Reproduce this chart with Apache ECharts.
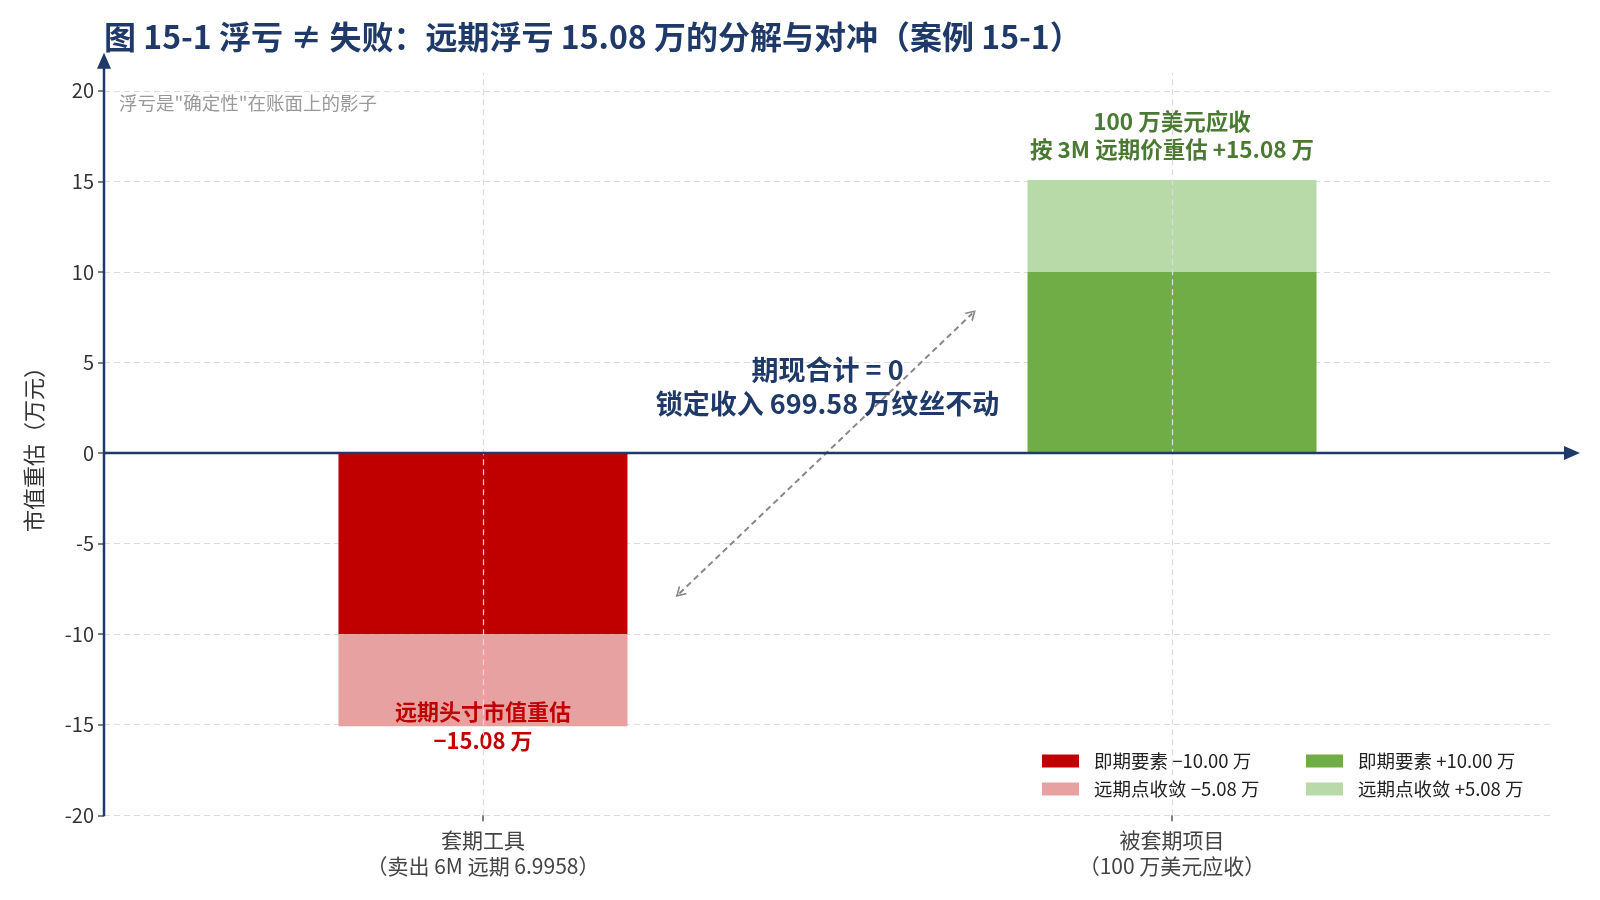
<!DOCTYPE html>
<html>
<head>
    <meta charset="UTF-8">
    <title>图 15-1 浮亏 ≠ 失败</title>
    <script src="https://cdn.jsdelivr.net/npm/echarts/dist/echarts.min.js"></script>
    <style>
    html, body { margin: 0; padding: 0; background: #fff; }
    #chart { width: 1600px; height: 900px; }
  </style>
</head>
<body>
<div id="chart"></div>
<script>
    // 数据
    var categories = ['套期工具\n（卖出 6M 远期 6.9958）', '被套期项目\n（100 万美元应收）'];
    var spotValues = [-10.00, 10.00];      // 即期要素
    var forwardValues = [-5.08, 5.08];     // 远期点收敛
    var yTicks = [-20, -15, -10, -5, 0, 5, 10, 15, 20];
    var seriesNames = ['即期要素 −10.00 万', '远期点收敛 −5.08 万', '即期要素 +10.00 万', '远期点收敛 +5.08 万'];
    var barLabels = ['远期头寸市值重估\n−15.08 万', '100 万美元应收\n按 3M 远期价重估 +15.08 万'];
    var noteText = '期现合计 = 0\n锁定收入 699.58 万纹丝不动';
    var notePos = [0.5, 3.65];
    var arrowFrom = [0.285, -7.75];
    var arrowTo = [0.71, 7.7];

    var NAVY = '#1f3a68';
    var font = '"Noto Sans CJK SC", "Noto Sans", sans-serif';

    // 版面：x 轴范围 -0.55 ~ 1.55，两个柱子位于 0 和 1
    var xMin = -0.55, xMax = 1.55, yMin = -20, yMax = 21;
    var gLeft = 104, gRight = 49, gTop = 72.7, gBottom = 84.7;
    var unit = (1600 - gLeft - gRight) / (xMax - xMin);
    var c0 = gLeft + (0 - xMin) * unit;
    var barLeft = c0 - unit / 2;
    var barRight = 1600 - (barLeft + unit * 2);

    var myChart = echarts.init(document.getElementById('chart'));

    var legendText = { fontSize: 18.5, color: '#222', lineHeight: 20, padding: [0, 0, 0, 10], fontFamily: font };

    var option = {
      animation: false,
      textStyle: { fontFamily: font },
      title: [{
        text: '图 15-1 浮亏 ≠ 失败：远期浮亏 15.08 万的分解与对冲（案例 15-1）',
        left: 99, top: 16,
        textStyle: { fontSize: 32, fontWeight: 'bold', color: NAVY, fontFamily: font }
      }, {
        text: '浮亏是"确定性"在账面上的影子',
        left: 114, top: 89,
        textStyle: { fontSize: 18.5, fontWeight: 'normal', color: '#999', fontFamily: font }
      }],
      legend: [{
        left: 1037, top: 746, orient: 'vertical',
        itemWidth: 37, itemHeight: 13, itemGap: 8, icon: 'rect',
        textStyle: legendText,
        data: [seriesNames[0], seriesNames[1]]
      }, {
        left: 1301, top: 746, orient: 'vertical',
        itemWidth: 37, itemHeight: 13, itemGap: 8, icon: 'rect',
        textStyle: legendText,
        data: [seriesNames[2], seriesNames[3]]
      }],
      grid: [
        { left: gLeft, right: gRight, top: gTop, bottom: gBottom },
        { left: barLeft, right: barRight, top: gTop, bottom: gBottom }
      ],
      xAxis: [{
        gridIndex: 0, type: 'value', min: xMin, max: xMax,
        axisLine: { show: false, onZero: false },
        axisTick: { show: true, customValues: [0, 1], length: 6, lineStyle: { color: '#555', width: 1.5 } },
        axisLabel: {
          customValues: [0, 1], margin: 12,
          fontSize: 21, lineHeight: 26, color: '#444',
          formatter: function (v) { return categories[Math.round(v)]; }
        },
        splitLine: { show: false }
      }, {
        gridIndex: 1, type: 'category', data: categories, show: false
      }],
      yAxis: [{
        gridIndex: 0, type: 'value', min: yMin, max: yMax,
        name: '市值重估（万元）',
        nameLocation: 'middle', nameGap: 59, nameRotate: 90,
        nameTextStyle: { fontSize: 22, color: '#333', fontFamily: font },
        axisLine: { show: false, onZero: false },
        axisTick: { show: true, customValues: yTicks, length: 6, lineStyle: { color: '#555', width: 1.5 } },
        axisLabel: { customValues: yTicks, fontSize: 20, color: '#333', margin: 10 },
        splitLine: { show: true, customValues: yTicks, lineStyle: { color: '#dcdcdc', type: [6, 4], width: 1.2 } }
      }, {
        gridIndex: 1, type: 'value', min: yMin, max: yMax, show: false
      }],
      series: [{
        name: seriesNames[0], type: 'bar', stack: 'a', barWidth: 289,
        xAxisIndex: 1, yAxisIndex: 1,
        itemStyle: { color: '#c00000' },
        data: [spotValues[0], '-'],
        markLine: {
          silent: true, symbol: 'none', label: { show: false },
          lineStyle: { color: '#dcdcdc', type: [6, 4], width: 1.2 },
          data: [{ xAxis: 0 }, { xAxis: 1 }]
        }
      }, {
        name: seriesNames[1], type: 'bar', stack: 'a', barWidth: 289,
        xAxisIndex: 1, yAxisIndex: 1,
        itemStyle: { color: '#e8a1a1' },
        label: {
          show: true, position: ['50%', '100%'], align: 'center', verticalAlign: 'middle',
          formatter: barLabels[0], fontSize: 22, lineHeight: 28.6, fontWeight: 'bold', color: '#c00000'
        },
        data: [forwardValues[0], '-']
      }, {
        name: seriesNames[2], type: 'bar', stack: 'a', barWidth: 289,
        xAxisIndex: 1, yAxisIndex: 1,
        itemStyle: { color: '#70ad47' },
        data: ['-', spotValues[1]]
      }, {
        name: seriesNames[3], type: 'bar', stack: 'a', barWidth: 289,
        xAxisIndex: 1, yAxisIndex: 1,
        itemStyle: { color: '#b8d9a8' },
        label: {
          show: true, position: 'top', distance: 16,
          formatter: barLabels[1], fontSize: 22.5, lineHeight: 28.6, fontWeight: 'bold', color: '#4a7a32'
        },
        data: ['-', forwardValues[1]]
      }, {
        // 中间注释与双向虚线箭头
        type: 'scatter', xAxisIndex: 0, yAxisIndex: 0,
        symbolSize: 0, silent: true, z: 10,
        itemStyle: { opacity: 1, color: NAVY },
        data: [notePos],
        label: {
          show: true, position: 'inside', formatter: noteText, opacity: 1,
          fontSize: 27, lineHeight: 34, fontWeight: 'bold', color: NAVY,
          textBorderWidth: 0, textBorderColor: 'transparent'
        },
        markLine: {
          silent: true,
          symbol: ['path://M0,10 L5,0 L10,10 L8.4,10 L5,3.2 L1.6,10 Z', 'path://M0,10 L5,0 L10,10 L8.4,10 L5,3.2 L1.6,10 Z'],
          symbolSize: [12, 10],
          label: { show: false },
          lineStyle: { color: '#888', type: [6, 4], width: 2, opacity: 1 },
          data: [[{ coord: arrowFrom }, { coord: arrowTo }]]
        }
      }]
    };
    myChart.setOption(option);

    // 坐标轴线与箭头
    var origin = myChart.convertToPixel({ gridIndex: 0 }, [xMin, 0]);
    var bottomLeft = myChart.convertToPixel({ gridIndex: 0 }, [xMin, yMin]);
    var topLeft = myChart.convertToPixel({ gridIndex: 0 }, [xMin, yMax]);
    var rightEnd = myChart.convertToPixel({ gridIndex: 0 }, [xMax, 0]);
    var yTip = topLeft[1] - 20;
    var xTip = rightEnd[0] + 29;

    myChart.setOption({
      graphic: [{
        type: 'line', z: 50,
        shape: { x1: bottomLeft[0], y1: bottomLeft[1] + 1, x2: bottomLeft[0], y2: yTip + 10 },
        style: { stroke: NAVY, lineWidth: 2.5 }
      }, {
        type: 'polygon', z: 50,
        shape: { points: [[bottomLeft[0], yTip], [bottomLeft[0] - 7, yTip + 16], [bottomLeft[0] + 7, yTip + 16]] },
        style: { fill: NAVY }
      }, {
        type: 'line', z: 50,
        shape: { x1: origin[0], y1: origin[1], x2: xTip - 10, y2: origin[1] },
        style: { stroke: NAVY, lineWidth: 2.5 }
      }, {
        type: 'polygon', z: 50,
        shape: { points: [[xTip, origin[1]], [xTip - 16, origin[1] - 7], [xTip - 16, origin[1] + 7]] },
        style: { fill: NAVY }
      }]
    });
  </script>
</body>
</html>
